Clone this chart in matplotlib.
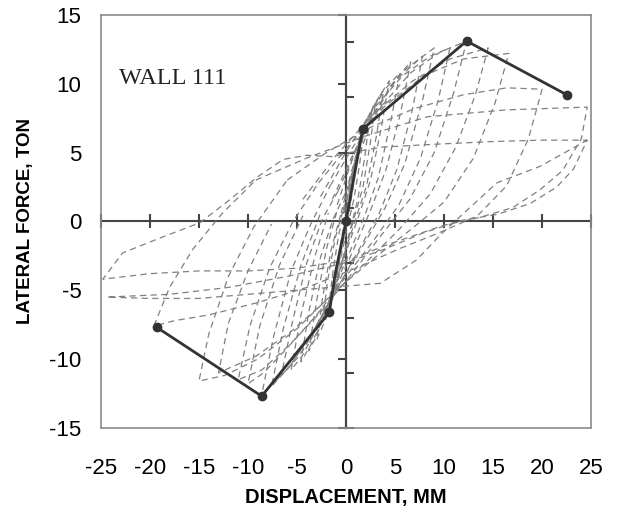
import matplotlib
matplotlib.use('Agg')
import matplotlib.pyplot as plt

plt.rcParams['font.family'] = ['Liberation Sans', 'DejaVu Sans']
plt.rcParams['axes.unicode_minus'] = False

# Envelope (backbone) curve
env_x = [-19.3, -8.6, -1.7, -1.1, 0.0, 1.7, 12.3, 22.5]
env_y = [-7.7, -12.7, -6.6, -3.8, 0.0, 6.7, 13.1, 9.2]
env_dot_x = [-19.3, -8.6, -1.7, 0.0, 1.7, 12.3, 22.5]
env_dot_y = [-7.7, -12.7, -6.6, 0.0, 6.7, 13.1, 9.2]

# Hysteresis cycles
loop1_x = [0.0, 0.3, 0.6, 1.0, 0.7, 0.3, -0.1, -0.5, -0.8, -1.0, -0.7, -0.3, 0.1]
loop1_y = [0.0, 1.6, 3.0, 4.4, 2.4, 0.6, -0.8, -2.2, -3.4, -4.1, -2.2, -0.6, 1.0]
loop2_x = [0.1, 0.5, 1.0, 1.4, 1.8, 1.4, 0.8, 0.2, -0.4, -1.0, -1.5, -1.8, -1.4, -0.8, -0.2]
loop2_y = [1.0, 2.8, 4.6, 5.8, 6.6, 4.2, 1.6, -0.2, -2.2, -4.2, -5.7, -6.5, -4.0, -1.2, 0.8]
loop3_x = [-0.2, 0.5, 1.3, 2.1, 3.0, 2.5, 1.7, 0.8, -0.1, -1.0, -2.0, -3.0, -2.4, -1.5, -0.5]
loop3_y = [0.8, 3.2, 5.6, 7.4, 8.6, 5.8, 2.4, 0.2, -2.2, -4.8, -7.0, -8.6, -5.6, -2.0, 0.6]
loop4_x = [-0.5, 0.4, 1.5, 2.8, 4.4, 3.6, 2.5, 1.3, 0.1, -1.1, -2.4, -3.6, -4.6, -3.8, -2.6, -1.3, -0.1]
loop4_y = [0.6, 3.2, 6.0, 8.4, 10.2, 6.8, 3.0, 0.4, -2.0, -4.6, -7.2, -9.0, -10.2, -6.6, -2.6, 0.2, 2.0]
loop5_x = [-0.1, 1.2, 2.7, 4.5, 6.6, 5.6, 4.1, 2.5, 0.8, -1.0, -2.9, -4.8, -6.6, -5.5, -4.0, -2.4, -0.8]
loop5_y = [2.0, 4.6, 7.4, 9.8, 11.6, 8.0, 3.8, 0.8, -2.0, -4.8, -7.6, -9.8, -11.2, -7.4, -3.0, 0.2, 2.2]
loop6_x = [-0.8, 0.9, 3.0, 5.6, 9.0, 7.8, 6.0, 4.0, 1.7, -0.7, -3.2, -5.8, -8.6, -7.4, -5.6, -3.6, -1.6]
loop6_y = [2.2, 5.0, 8.0, 10.8, 12.6, 8.8, 4.2, 1.0, -1.8, -4.6, -7.8, -10.6, -12.6, -8.4, -3.6, -0.2, 2.6]
loop7_x = [-1.6, 0.7, 3.4, 6.6, 9.6, 12.3, 11.0, 9.0, 6.5, 3.6, 0.6, -2.6, -5.8, -8.6, -11.0, -9.8, -7.8, -5.4, -2.8]
loop7_y = [2.6, 5.4, 8.2, 10.8, 12.3, 13.1, 9.4, 5.0, 1.6, -1.0, -3.8, -6.6, -9.0, -10.8, -11.5, -7.6, -3.4, 0.0, 2.8]
loop8_x = [-2.8, 0.4, 4.0, 8.0, 12.0, 16.6, 15.2, 13.0, 10.0, 6.6, 3.0, -1.0, -5.0, -9.0, -12.4, -15.0, -14.0, -12.0, -9.4, -6.0]
loop8_y = [2.8, 5.6, 8.4, 10.6, 11.8, 12.2, 8.6, 4.6, 1.4, -0.6, -2.6, -5.0, -7.8, -10.0, -11.2, -11.6, -8.2, -4.0, -0.4, 3.0]
loop9_x = [-6.0, -2.0, 2.4, 7.0, 12.0, 16.4, 20.0, 18.6, 16.4, 13.4, 9.6, 5.4, 1.0, -4.0, -9.0, -14.0, -17.4, -19.6, -18.0, -15.6, -12.6, -9.2]
loop9_y = [3.0, 5.0, 6.8, 8.2, 9.2, 9.7, 9.6, 6.0, 2.6, 0.4, -0.8, -2.0, -3.4, -4.8, -5.9, -6.8, -7.2, -7.6, -4.8, -2.0, 0.6, 3.0]
loop10_x = [-9.2, -4.0, 2.0, 8.3, 16.4, 24.6, 24.0, 22.1, 19.8, 17.0, 13.7, 9.9, 3.8, 0.4, -5.0, -10.0,
            -15.0, -20.0, -24.8, -22.8, -19.3, -14.9, -11.8, -9.1, -6.4, -4.0, -1.3, 0.4]
loop10_y = [3.0, 4.6, 6.2, 7.6, 8.1, 8.3, 6.0, 3.7, 2.3, 1.0, 0.3, -0.3, -1.8, -2.8, -3.4, -3.6,
            -3.6, -3.8, -4.2, -2.3, -1.3, -0.1, 1.6, 3.2, 4.5, 4.8, 4.7, 5.0]
loop11_x = [0.4, 3.8, 9.0, 15.0, 20.0, 24.6, 23.2, 21.5, 18.8, 15.4, 12.0, 8.0, 4.0, 0.0, -6.0, -12.0,
            -18.0, -24.4, -20.0, -15.0, -10.0, -5.0, 0.0, 3.5, 7.2, 9.6, 11.1, 15.4, 19.8, 24.6]
loop11_y = [5.0, 5.4, 5.6, 5.8, 5.9, 5.9, 3.8, 2.5, 1.3, 0.5, 0.1, -0.8, -2.0, -3.0, -4.0, -4.8,
            -5.3, -5.5, -5.6, -5.6, -5.3, -5.0, -4.7, -4.5, -2.8, -1.0, 0.0, 2.8, 4.0, 5.9]
# repeated cycles at the same amplitudes
loop12_x = [-0.2, 0.5, 1.2, 1.8, 2.4, 1.9, 1.2, 0.5, -0.3, -1.0, -1.7, -2.4, -1.9, -1.1, -0.3]
loop12_y = [0.6, 2.8, 4.8, 6.3, 7.4, 4.6, 1.6, -0.4, -2.6, -4.6, -6.2, -7.4, -4.4, -1.2, 0.8]
loop13_x = [-0.3, 0.6, 1.6, 2.7, 3.8, 3.1, 2.1, 1.0, -0.1, -1.2, -2.3, -3.2, -3.8, -3.0, -2.0, -0.9]
loop13_y = [0.8, 3.4, 6.0, 8.0, 9.4, 6.2, 2.6, 0.2, -2.2, -4.8, -7.0, -8.6, -9.4, -5.8, -2.0, 0.8]
loop14_x = [-0.9, 0.4, 1.9, 3.6, 5.5, 4.6, 3.3, 1.9, 0.4, -1.3, -3.0, -4.5, -5.6, -4.6, -3.2, -1.8]
loop14_y = [1.2, 4.0, 7.0, 9.3, 10.8, 7.4, 3.2, 0.4, -2.2, -5.0, -7.8, -9.8, -10.8, -6.8, -2.6, 0.6]
loop15_x = [-1.4, 0.4, 2.6, 5.0, 7.8, 6.8, 5.2, 3.4, 1.2, -1.0, -3.4, -5.6, -7.6, -6.4, -4.6, -2.6]
loop15_y = [1.6, 4.4, 7.6, 10.2, 12.0, 8.2, 3.8, 0.6, -2.2, -5.0, -8.0, -10.4, -12.0, -7.8, -3.2, 0.6]
loop16_x = [-2.6, -0.2, 2.6, 5.8, 8.6, 10.6, 9.4, 7.6, 5.4, 2.8, 0.0, -3.0, -6.0, -8.4, -10.0, -8.8, -6.8, -4.4]
loop16_y = [1.8, 4.8, 8.0, 10.6, 12.0, 12.6, 8.8, 4.6, 1.2, -1.4, -4.0, -6.8, -9.2, -11.0, -11.8, -7.6, -3.2, 0.4]
loop17_x = [-4.4, -1.0, 2.8, 6.8, 10.6, 14.5, 13.2, 11.2, 8.6, 5.4, 2.0, -1.8, -5.6, -9.2, -13.0, -12.0, -10.0, -7.6]
loop17_y = [1.6, 4.8, 7.8, 10.2, 11.8, 12.6, 9.2, 5.4, 2.0, -0.6, -3.0, -5.6, -8.0, -9.8, -11.0, -7.4, -3.6, -0.2]

loops = [(loop1_x, loop1_y), (loop2_x, loop2_y), (loop3_x, loop3_y), (loop4_x, loop4_y),
         (loop5_x, loop5_y), (loop6_x, loop6_y), (loop7_x, loop7_y), (loop8_x, loop8_y),
         (loop9_x, loop9_y), (loop10_x, loop10_y), (loop11_x, loop11_y), (loop12_x, loop12_y),
         (loop13_x, loop13_y), (loop14_x, loop14_y), (loop15_x, loop15_y), (loop16_x, loop16_y),
         (loop17_x, loop17_y)]

x_ticks = [-25, -20, -15, -10, -5, 0, 5, 10, 15, 20, 25]
y_ticks = [-15, -10, -5, 0, 5, 10, 15]
y_ticks_b = [-15, -11, -7, -3, 1, 5, 9, 13]

fig = plt.figure(figsize=(6.19, 5.13), dpi=100)
ax = fig.add_axes([0.163, 0.166, 0.792, 0.805])

for lx, ly in loops:
    ax.plot(lx, ly, color='#808080', lw=0.9, linestyle=(0, (5, 3.5)), zorder=2)

ax.plot(env_x, env_y, color='#333333', lw=2, zorder=4)
ax.plot(env_dot_x, env_dot_y, 'o', color='#333333', ms=6, zorder=5)

ax.set_xlim(-25, 25)
ax.set_ylim(-15, 15)
ax.set_xticks(x_ticks)
ax.set_yticks(y_ticks)
ax.tick_params(axis='x', length=0, pad=22, labelsize=16)
ax.tick_params(axis='y', length=0, pad=14, labelsize=16)
for s in ax.spines.values():
    s.set_color('#8a8a8a')
    s.set_linewidth(1.2)

# axes through the origin
axis_col = '#444444'
sx = ax.secondary_xaxis(0.5)
sx.set_xticks(x_ticks)
sx.tick_params(direction='inout', length=10, width=1.5, colors=axis_col,
               labeltop=False, labelbottom=False)
for s in sx.spines.values():
    s.set_color(axis_col)
    s.set_linewidth(1.5)

sy = ax.secondary_yaxis(0.5)
sy.set_yticks(y_ticks_b)
sy.tick_params(direction='out', length=6, width=1.5, colors=axis_col,
               labelleft=False, labelright=False)
for s in sy.spines.values():
    s.set_color(axis_col)
    s.set_linewidth(1.5)

sy2 = ax.secondary_yaxis(0.5)
sy2.set_alignment('left')
sy2.set_yticks(y_ticks)
sy2.tick_params(direction='out', length=6, width=1.5, colors=axis_col,
                labelleft=False, labelright=False)
for s in sy2.spines.values():
    s.set_color(axis_col)
    s.set_linewidth(1.5)

ax.set_xlabel('DISPLACEMENT, MM', fontsize=14.5, fontweight='bold')
ax.xaxis.set_label_coords(0.5, -0.145)
ax.set_ylabel('LATERAL FORCE, TON', fontsize=13.5, fontweight='bold', labelpad=11)
ax.text(0.037, 0.845, 'WALL 111', transform=ax.transAxes, fontsize=17.5,
        family='Liberation Serif', va='center', ha='left', color='#222222')

fig.savefig('out.png', dpi=100)
